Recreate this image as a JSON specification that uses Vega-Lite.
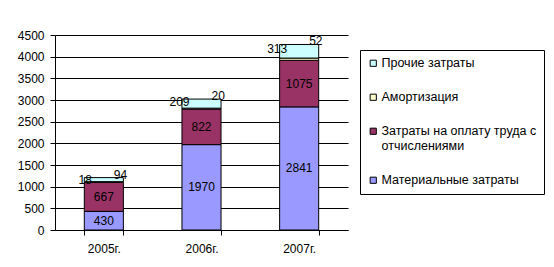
{
  "$schema": "https://vega.github.io/schema/vega-lite/v6.json",
  "width": 293,
  "height": 195,
  "autosize": {"type": "none"},
  "padding": {"left": 55, "top": 35, "right": 206, "bottom": 37},
  "background": "white",
  "config": {
    "view": {"stroke": null},
    "font": "Liberation Sans",
    "text": {"font": "Liberation Sans", "fontSize": 12, "fill": "black"}
  },
  "resolve": {"axis": {"y": "independent"}},
  "data": {
    "values": [
      {"year": "2005г.", "series": "Материальные затраты", "value": 430},
      {"year": "2005г.", "series": "Затраты на оплату труда с отчислениями", "value": 667},
      {"year": "2005г.", "series": "Амортизация", "value": 18},
      {"year": "2005г.", "series": "Прочие затраты", "value": 94},
      {"year": "2006г.", "series": "Материальные затраты", "value": 1970},
      {"year": "2006г.", "series": "Затраты на оплату труда с отчислениями", "value": 822},
      {"year": "2006г.", "series": "Амортизация", "value": 20},
      {"year": "2006г.", "series": "Прочие затраты", "value": 209},
      {"year": "2007г.", "series": "Материальные затраты", "value": 2841},
      {"year": "2007г.", "series": "Затраты на оплату труда с отчислениями", "value": 1075},
      {"year": "2007г.", "series": "Амортизация", "value": 52},
      {"year": "2007г.", "series": "Прочие затраты", "value": 313}
    ]
  },
  "transform": [
    {"calculate": "indexof(['Материальные затраты','Затраты на оплату труда с отчислениями','Амортизация','Прочие затраты'], datum.series)", "as": "ord"},
    {"stack": "value", "groupby": ["year"], "sort": [{"field": "ord", "order": "ascending"}], "as": ["v0", "v1"]},
    {"calculate": "(datum.v0 + datum.v1) / 2", "as": "mid"},
    {"joinaggregate": [{"op": "sum", "field": "value", "as": "total"}], "groupby": ["year"]}
  ],
  "encoding": {
    "x": {
      "field": "year",
      "type": "nominal",
      "scale": {"paddingInner": 0.6, "paddingOuter": 0.3},
      "axis": {
        "title": null,
        "labelAngle": 0,
        "labelFontSize": 12,
        "labelFont": "Liberation Sans",
        "labelColor": "black",
        "labelPadding": 8,
        "tickBand": "extent",
        "tickSize": 5,
        "tickColor": "black",
        "domainColor": "black",
        "grid": false
      }
    }
  },
  "layer": [
    {
      "mark": {"type": "bar", "stroke": "black", "strokeWidth": 1},
      "encoding": {
        "y": {
          "field": "v0",
          "type": "quantitative",
          "scale": {"domain": [0, 4500], "nice": false},
          "axis": {
            "title": null,
            "values": [0, 500, 1000, 1500, 2000, 2500, 3000, 3500, 4000, 4500],
            "format": "d",
            "labelOverlap": false,
            "labelFontSize": 12,
            "labelFont": "Liberation Sans",
            "labelColor": "black",
            "labelPadding": 6,
            "tickSize": 5,
            "tickColor": "black",
            "domainColor": "black",
            "grid": true,
            "gridColor": "black",
            "gridOpacity": 1,
            "gridWidth": 1
          }
        },
        "y2": {"field": "v1"},
        "color": {
          "field": "series",
          "type": "nominal",
          "scale": {
            "domain": ["Материальные затраты", "Затраты на оплату труда с отчислениями", "Амортизация", "Прочие затраты"],
            "range": ["#9999FF", "#993366", "#FFFFCC", "#CCFFFF"]
          },
          "legend": {
            "title": null,
            "orient": "none",
            "legendX": 305,
            "legendY": 15,
            "values": ["Прочие затраты", "Амортизация", "Затраты на оплату труда с отчислениями", "Материальные затраты"],
            "labelExpr": "datum.label == 'Затраты на оплату труда с отчислениями' ? ['Затраты на оплату труда с', 'отчислениями'] : datum.label",
            "labelFont": "Liberation Sans",
            "labelFontSize": 12.5,
            "labelColor": "black",
            "labelLimit": 300,
            "labelOffset": 2,
            "symbolType": "square",
            "symbolSize": 38,
            "symbolStrokeColor": "black",
            "symbolStrokeWidth": 1,
            "rowPadding": 21,
            "padding": 7,
            "strokeColor": "black",
            "fillColor": "white"
          }
        }
      }
    },
    {
      "transform": [{"filter": "datum.ord < 2"}],
      "mark": {"type": "text", "align": "center", "baseline": "middle"},
      "encoding": {
        "y": {"field": "mid", "type": "quantitative", "axis": null},
        "text": {"field": "value", "type": "quantitative"}
      }
    },
    {
      "transform": [{"filter": "(datum.year == '2005г.' && datum.ord == 2) || (datum.year != '2005г.' && datum.ord == 3)"}],
      "mark": {"type": "text", "align": "right", "baseline": "middle", "dx": -12, "dy": -2},
      "encoding": {
        "y": {"field": "mid", "type": "quantitative", "axis": null},
        "text": {"field": "value", "type": "quantitative"}
      }
    },
    {
      "transform": [{"filter": "(datum.year == '2005г.' && datum.ord == 3) || (datum.year != '2005г.' && datum.ord == 2)"}],
      "mark": {"type": "text", "align": "left", "baseline": "middle", "dx": 10, "dy": -3},
      "encoding": {
        "y": {"field": "total", "type": "quantitative", "axis": null},
        "text": {"field": "value", "type": "quantitative"}
      }
    }
  ]
}
